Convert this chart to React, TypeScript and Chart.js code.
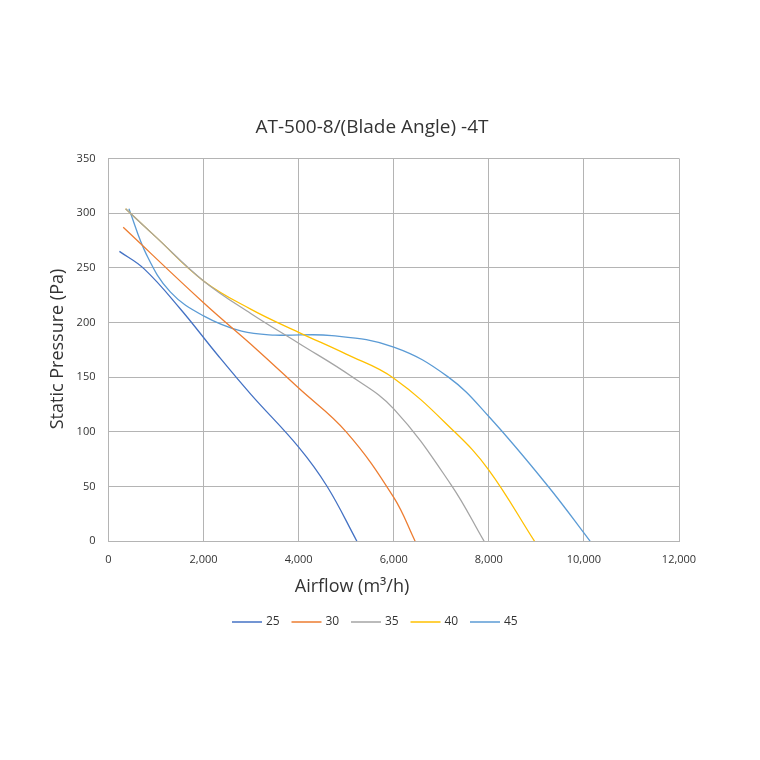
import React, { useEffect, useRef } from "react";
import { Chart, registerables } from "chart.js";

Chart.register(...registerables);

const chartTitle = "AT-500-8/(Blade Angle) -4T";
const xTitle = "Airflow (m³/h)";
const yTitle = "Static Pressure (Pa)";

const seriesLabels = ["25", "30", "35", "40", "45"];
const seriesColors = ["#4472C4", "#ED7D31", "#A5A5A5", "#FFC000", "#5B9BD5"];

const flow25 = [230, 750, 1500, 2300, 3000, 4000, 4600, 5225];
const pres25 = [265, 249, 213, 170, 134, 86, 50, 0];

const flow30 = [310, 2000, 3100, 4000, 5000, 6000, 6450];
const pres30 = [287, 218, 176, 140, 100, 40, 0];

const flow35 = [360, 1000, 2000, 3000, 4000, 5100, 6000, 7200, 7900];
const pres35 = [304, 278, 238, 208, 181, 151, 121, 52, 0];

const flow40 = [360, 1000, 2000, 3000, 4000, 5000, 6000, 7280, 8000, 8960];
const pres40 = [304, 278, 238, 212, 191, 171, 149, 100, 65, 0];

const flow45 = [430, 800, 1300, 2000, 2800, 3500, 4700, 6000, 7150, 8000, 9250, 10130];
const pres45 = [304, 262, 228, 206, 192, 188.5, 188, 177.5, 150, 114, 50, 0];

const flows = [flow25, flow30, flow35, flow40, flow45];
const pressures = [pres25, pres30, pres35, pres40, pres45];

const xTickMax = 12000;
const yTickMax = 350;

const FONT = "'Open Sans', 'Liberation Sans', sans-serif";
const TRANSPARENT = "rgba(0,0,0,0)";

const overlayPlugin = {
  id: "overlayText",
  afterDraw(chart: any) {
    const ctx = chart.ctx as CanvasRenderingContext2D;
    ctx.save();
    ctx.fillStyle = "#333";
    ctx.textAlign = "center";
    ctx.textBaseline = "middle";
    ctx.font = `19px ${FONT}`;
    ctx.fillText(chartTitle, 372, 128);
    ctx.font = `18px ${FONT}`;
    ctx.fillText(xTitle, 352, 587);
    ctx.save();
    ctx.translate(58, 349);
    ctx.rotate(-Math.PI / 2);
    ctx.fillText(yTitle, 0, 0);
    ctx.restore();
    ctx.font = `12px ${FONT}`;
    ctx.textAlign = "left";
    chart.data.datasets.forEach((ds: any, i: number) => {
      const x0 = 232 + i * 59.5;
      ctx.strokeStyle = ds.borderColor;
      ctx.lineWidth = 1.5;
      ctx.beginPath();
      ctx.moveTo(x0, 622);
      ctx.lineTo(x0 + 30, 622);
      ctx.stroke();
      ctx.fillStyle = "#333";
      ctx.fillText(ds.label, x0 + 34, 622);
    });
    ctx.restore();
  },
};

export default function App() {
  const ref = useRef<HTMLCanvasElement | null>(null);
  useEffect(() => {
    if (!ref.current) return;
    const chart = new Chart(ref.current, {
      type: "scatter",
      data: {
        datasets: seriesLabels.map((lab, i) => ({
          label: lab,
          data: flows[i].map((x, j) => ({ x, y: pressures[i][j] })),
          showLine: true,
          borderColor: seriesColors[i],
          backgroundColor: seriesColors[i],
          borderWidth: 1.3,
          pointRadius: 0,
          pointHoverRadius: 0,
          tension: 0.4,
          fill: false,
        })),
      },
      options: {
        animation: false,
        responsive: false,
        maintainAspectRatio: false,
        layout: { padding: { top: 118, left: 30, right: 81, bottom: 144 } },
        plugins: {
          title: {
            display: true,
            text: chartTitle,
            color: TRANSPARENT,
            font: { family: FONT, size: 17, weight: "normal" },
            padding: { top: 0, bottom: 20 },
          },
          legend: { display: false },
          tooltip: { enabled: false },
        },
        scales: {
          x: {
            type: "linear",
            min: 0,
            max: xTickMax,
            ticks: {
              stepSize: 2000,
              color: "#333",
              font: { family: FONT, size: 11 },
              callback: (v: any) => Number(v).toLocaleString("en-US"),
              padding: 12,
            },
            grid: { color: "#b4b4b4", lineWidth: 1, drawTicks: false },
            border: { color: "#b4b4b4" },
            title: {
              display: true,
              text: xTitle,
              color: TRANSPARENT,
              font: { family: FONT, size: 18 },
              padding: { top: 12 },
            },
          },
          y: {
            type: "linear",
            min: 0,
            max: yTickMax,
            ticks: {
              stepSize: 50,
              color: "#333",
              font: { family: FONT, size: 11 },
              padding: 13,
            },
            grid: { color: "#b4b4b4", lineWidth: 1, drawTicks: false },
            border: { color: "#b4b4b4" },
            title: {
              display: true,
              text: yTitle,
              color: TRANSPARENT,
              font: { family: FONT, size: 18 },
              padding: { bottom: 8 },
            },
          },
        },
      },
      plugins: [overlayPlugin],
    });
    return () => chart.destroy();
  }, []);
  return (
    <div style={{ position: "absolute", left: 0, top: 0, width: 760, height: 760, background: "#fff" }}>
      <canvas ref={ref} width={760} height={760} style={{ width: 760, height: 760 }} />
    </div>
  );
}
